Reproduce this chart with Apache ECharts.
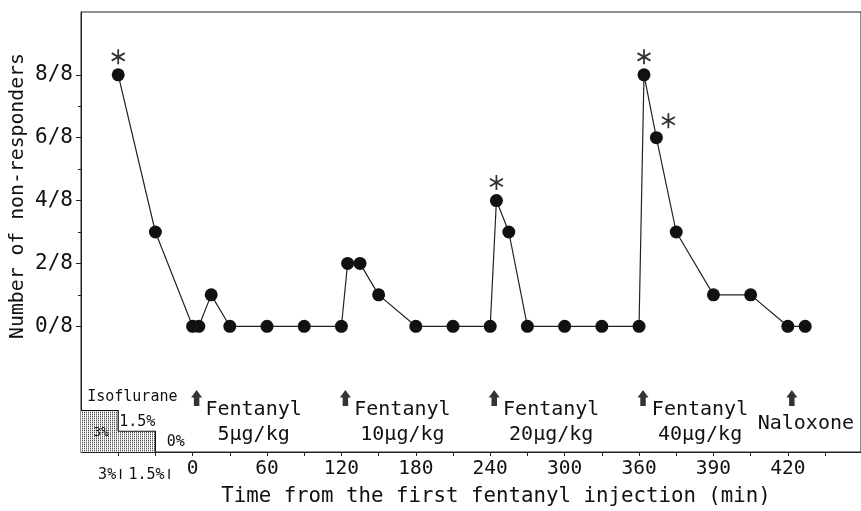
<!DOCTYPE html>
<html><head><meta charset="utf-8">
<script src="https://cdn.jsdelivr.net/npm/echarts@6/dist/echarts.min.js"></script>
<style>html,body{margin:0;padding:0;background:#fff}#c{width:861px;height:511px}</style>
</head><body><div id="c"></div>
<script>
// ---- data (time in minutes; -60 / -30 are the isoflurane 3% / 1.5% phases) ----
const times = [-60, -30, 0, 5, 15, 30, 60, 90, 120, 125, 135, 150, 180, 210, 240, 245, 255, 270, 300, 330, 360, 362, 367, 375, 390, 405, 420, 427];
const nonResponders = [8, 3, 0, 0, 1, 0, 0, 0, 0, 2, 2, 1, 0, 0, 0, 4, 3, 0, 0, 0, 0, 8, 6, 3, 1, 1, 0, 0];
const sigTimes = [-60, 245, 362, 367];
const sigValues = [8, 4, 8, 6];
const injectionTimes = [0, 120, 240, 360, 420];
const injectionNames = ['Fentanyl', 'Fentanyl', 'Fentanyl', 'Fentanyl', 'Naloxone'];
const injectionDoses = ['5μg/kg', '10μg/kg', '20μg/kg', '40μg/kg', ''];
const xTickTimes = [0, 60, 120, 180, 240, 300, 360, 390, 420];
const yTickValues = [0, 2, 4, 6, 8];
const yMinorTicks = [1, 3, 5, 7];
const isoNames = ['3%', '1.5%'];
const isoLevels = [3, 1.5];
const isoStart = [-90, -60];
const isoEnd = [-60, -30];

// ---- helpers ----
const MONO = "'DejaVu Sans Mono','Liberation Mono',monospace";
// broken time axis: after 360 min the scale is doubled
const toAxis = t => t <= 360 ? t : 360 + 2 * (t - 360);
const fromAxis = v => v <= 360 ? v : 360 + (v - 360) / 2;
const xTickAxis = [];
for (let v = -60; v <= 510; v += 30) xTickAxis.push(v);

// stipple pattern
const pc = document.createElement('canvas');
pc.width = 2; pc.height = 2;
const pctx = pc.getContext('2d');
pctx.fillStyle = '#fff'; pctx.fillRect(0, 0, 2, 2);
pctx.fillStyle = '#555'; pctx.fillRect(0, 0, 1, 1);
pctx.fillStyle = '#bbb'; pctx.fillRect(0, 1, 1, 1);
const stipple = { image: pc, repeat: 'repeat' };

const chart = echarts.init(document.getElementById('c'));
const isoH = 0.44;

const option = {
  animation: false,
  grid: { left: 81, right: -2, top: 12, bottom: 59, show: true, borderColor: '#222', borderWidth: 1 },
  xAxis: {
    type: 'value', min: -90, max: 539,
    axisLine: { show: true, onZero: false, lineStyle: { color: '#222', width: 1 } },
    axisTick: { show: true, customValues: xTickAxis, length: 4, lineStyle: { color: '#222' } },
    axisLabel: { customValues: xTickTimes.map(toAxis), formatter: v => String(fromAxis(v)), fontFamily: MONO, fontSize: 19.5, color: '#111', margin: 7 },
    splitLine: { show: false }
  },
  yAxis: [{
    type: 'value', min: -4, max: 10,
    axisLine: { show: true, onZero: false, lineStyle: { color: '#222' } },
    axisTick: { show: true, customValues: yTickValues, length: 5, lineStyle: { color: '#222' } },
    axisLabel: { customValues: yTickValues, formatter: v => v + '/8', fontFamily: MONO, fontSize: 21, color: '#111', margin: 8 },
    splitLine: { show: false }
  }, {
    type: 'value', min: -4, max: 10, position: 'left',
    axisLine: { show: false, onZero: false },
    axisTick: { show: true, customValues: yMinorTicks, length: 3, lineStyle: { color: '#222' } },
    axisLabel: { show: false }, splitLine: { show: false }
  }],
  series: [{
    type: 'custom',
    data: isoLevels.map((lv, i) => [isoStart[i], isoEnd[i], lv]),
    encode: { x: [0, 1], y: 2 },
    renderItem: (params, api) => {
      const i = params.dataIndex;
      const s = api.value(0), e = api.value(1), lv = api.value(2);
      const top = -4 + lv * isoH;
      const nt = i + 1 < isoLevels.length ? -4 + isoLevels[i + 1] * isoH : -4;
      const p1 = api.coord([s, top]), p2 = api.coord([e, -4]);
      return {
        type: 'group', children: [
          { type: 'rect', shape: { x: p1[0], y: p1[1], width: p2[0] - p1[0], height: p2[1] - p1[1] }, style: { fill: stipple } },
          { type: 'polyline', z2: 5, shape: { points: [api.coord([s, top]), api.coord([e, top]), api.coord([e, nt])] }, style: { stroke: '#111', lineWidth: 1.2, fill: 'none' } }
        ]
      };
    },
    z: 1
  }, {
    type: 'line',
    data: times.map((t, i) => [toAxis(t), nonResponders[i]]),
    symbol: 'circle', symbolSize: 13,
    itemStyle: { color: '#111' },
    lineStyle: { color: '#222', width: 1.2 },
    z: 3
  }, {
    type: 'scatter',
    data: sigTimes.map((t, i) => ({ value: [toAxis(t), sigValues[i]], symbolOffset: i === 3 ? [12, -17] : [0, -18] })),
    symbol: 'path://M5,0L5,10M0.67,2.5L9.33,7.5M0.67,7.5L9.33,2.5',
    symbolSize: 15, symbolKeepAspect: true,
    itemStyle: { color: 'rgba(0,0,0,0)', borderColor: '#000', borderWidth: 1.8 },
    z: 4
  }, {
    type: 'scatter',
    data: injectionTimes.map(t => [toAxis(t), -2.28]),
    symbol: 'path://M5,0L10,7L7.5,7L7.5,15L2.5,15L2.5,7L0,7Z',
    symbolSize: [11, 16], symbolOffset: [4, 0],
    itemStyle: { color: '#000' },
    z: 4
  }]
};
chart.setOption(option);

const px = (x, y) => chart.convertToPixel({ xAxisIndex: 0, yAxisIndex: 0 }, [x, y]);
const txt = (p, text, size, extra) => Object.assign({
  type: 'text', x: p[0], y: p[1], z: 100,
  style: { text: text, font: size + 'px ' + MONO, fill: '#111', align: 'center', verticalAlign: 'middle' }
}, extra || {});

const graphics = [];
injectionTimes.forEach((t, i) => {
  const a = toAxis(t);
  if (injectionDoses[i]) {
    const p = px(a, -2.66); p[0] += 61;
    graphics.push(txt(p, injectionNames[i], 20));
    const q = px(a, -3.46); q[0] += 61;
    graphics.push(txt(q, injectionDoses[i], 20));
  } else {
    const p = px(a, -3.11); p[0] += 18;
    graphics.push(txt(p, injectionNames[i], 20));
  }
});
// isoflurane annotations
graphics.push(txt(px(-48.6, -2.25), 'Isoflurane', 15));
graphics.push(txt(px(-73.9, -3.39), isoNames[0], 13));
graphics.push(txt(px(-44.6, -3.04), isoNames[1], 15));
graphics.push(txt(px(-13.6, -3.68), '0%', 15));
const b = px(-76.2, -4.73);
graphics.push({
  type: 'text', x: b[0], y: b[1], z: 100,
  style: {
    text: '{a|3%}{b|I} {a|1.5%}{b|I}', align: 'left', verticalAlign: 'middle',
    rich: { a: { font: '15px ' + MONO, fill: '#111' }, b: { font: '15px Liberation Sans', fill: '#111', width: 9, align: 'center' } }
  }
});
// axis names
graphics.push(txt([496, 497], 'Time from the first fentanyl injection (min)', 20.75));
graphics.push(txt([18, 196], 'Number of non-responders', 19.8, { rotation: Math.PI / 2 }));
chart.setOption({ graphic: graphics });
</script>
</body></html>
